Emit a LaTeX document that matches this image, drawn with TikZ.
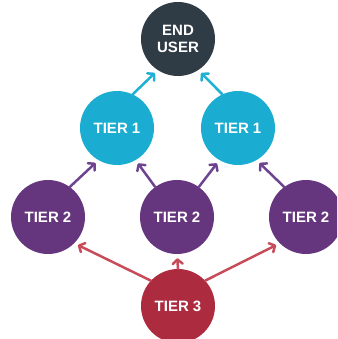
\documentclass[tikz,border=0pt]{standalone}
\usepackage{fontspec}
\setmainfont{Liberation Sans}
\usetikzlibrary{arrows.meta}
\definecolor{cEU}{HTML}{2F3B45}
\definecolor{cT1}{HTML}{1BADD1}
\definecolor{cT2}{HTML}{65357E}
\definecolor{cT3}{HTML}{AD2B3F}
\definecolor{aT1}{HTML}{1FB0D3}
\definecolor{aT2}{HTML}{6E4390}
\definecolor{aT3}{HTML}{C84B5A}
\tikzset{
  bubble/.style={circle, minimum size=74pt, inner sep=0pt, text=white,
    font=\fontsize{15}{17}\selectfont\bfseries, align=center},
  conn/.style={line width=2.5pt, line cap=round,
    -{Straight Barb[round, length=4.5pt, width=10pt, line width=2.5pt]}, shorten >=4pt}
}
\begin{document}
\begin{tikzpicture}[x=1pt, y=-1pt]
\useasboundingbox (0,0) rectangle (337,339);
\clip (0,0) rectangle (337,339);
\node[bubble, fill=cEU] (eu) at (178,39) {END\\USER};
\node[bubble, fill=cT1] (t1a) at (117,128) {TIER 1};
\node[bubble, fill=cT1] (t1b) at (238,128) {TIER 1};
\node[bubble, fill=cT2] (t2a) at (48,217) {TIER 2};
\node[bubble, fill=cT2] (t2b) at (177,217) {TIER 2};
\node[bubble, fill=cT2] (t2c) at (306,217) {TIER 2};
\node[bubble, fill=cT3] (t3) at (178,306) {TIER 3};
% tier 1 -> end user
\draw[conn, aT1] (t1a.65) -- (eu.237);
\draw[conn, aT1] (t1b.115) -- (eu.303);
% tier 2 -> tier 1
\draw[conn, aT2] (t2a.54) -- (t1a.240);
\draw[conn, aT2] (t2b.126) -- (t1a.300);
\draw[conn, aT2] (t2b.54) -- (t1b.240);
\draw[conn, aT2] (t2c.126) -- (t1b.300);
% tier 3 -> tier 2
\draw[conn, aT3] (t3.137) -- (t2a.315);
\draw[conn, aT3] (t3.90) -- (t2b.270);
\draw[conn, aT3] (t3.43) -- (t2c.225);
\end{tikzpicture}
\end{document}
